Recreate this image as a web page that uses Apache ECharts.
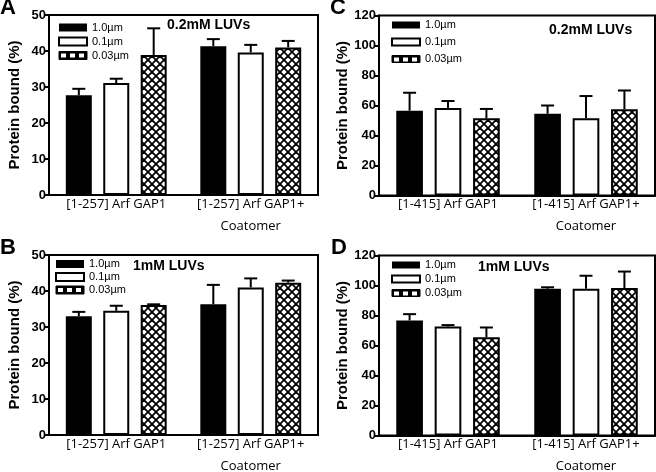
<!DOCTYPE html>
<html>
<head>
<meta charset="utf-8">
<script src="https://cdn.jsdelivr.net/npm/echarts@6/dist/echarts.min.js"></script>
<style>html,body{margin:0;padding:0;background:#fff}#c{width:656px;height:472px}</style>
</head>
<body>
<div id="c"></div>
<script>
// ---- data ----
const seriesNames = ['1.0\u00b5m', '0.1\u00b5m', '0.03\u00b5m'];
const categories257 = ['[1-257] Arf GAP1', '[1-257] Arf GAP1+\nCoatomer'];
const categories415 = ['[1-415] Arf GAP1', '[1-415] Arf GAP1+\nCoatomer'];
const panelLetters = ['A', 'B', 'C', 'D'];
const panelSubtitles = ['0.2mM LUVs', '1mM LUVs', '0.2mM LUVs', '1mM LUVs'];
const yTicksAB = [0, 10, 20, 30, 40, 50];
const yTicksCD = [0, 20, 40, 60, 80, 100, 120];

// Panel A (means, error tops)
const A_mean_1 = [27.7, 41.3];
const A_mean_01 = [31.1, 39.6];
const A_mean_003 = [38.9, 41.0];
const A_top_1 = [29.5, 43.3];
const A_top_01 = [32.3, 41.7];
const A_top_003 = [46.3, 42.8];
// Panel B
const B_mean_1 = [33.0, 36.3];
const B_mean_01 = [34.5, 41.0];
const B_mean_003 = [36.1, 42.3];
const B_top_1 = [34.2, 41.7];
const B_top_01 = [35.9, 43.5];
const B_top_003 = [36.3, 42.9];
// Panel C
const C_mean_1 = [56.5, 54.5];
const C_mean_01 = [58.3, 51.5];
const C_mean_003 = [51.5, 57.5];
const C_top_1 = [68.5, 60.0];
const C_top_01 = [63.0, 66.3];
const C_top_003 = [57.7, 70.0];
// Panel D
const D_mean_1 = [76.7, 97.8];
const D_mean_01 = [72.7, 97.8];
const D_mean_003 = [65.5, 98.3];
const D_top_1 = [80.9, 98.8];
const D_top_01 = [73.6, 106.5];
const D_top_003 = [72.0, 109.3];

// ---- styling helpers ----
function makeHatch() {
  const c = document.createElement('canvas');
  c.width = 8; c.height = 8;
  const g = c.getContext('2d');
  g.fillStyle = '#fff'; g.fillRect(0, 0, 8, 8);
  g.strokeStyle = '#000'; g.lineWidth = 1.8;
  for (const dx of [-8, 0, 8]) {
    g.beginPath(); g.moveTo(dx, 0); g.lineTo(dx + 8, 8); g.stroke();
    g.beginPath(); g.moveTo(dx + 8, 0); g.lineTo(dx, 8); g.stroke();
  }
  return c;
}
function makeDots() {
  const c = document.createElement('canvas');
  c.width = 9; c.height = 8;
  const g = c.getContext('2d');
  g.fillStyle = '#000'; g.fillRect(0, 0, 9, 8);
  g.fillStyle = '#fff'; g.fillRect(2, 2, 5, 4);
  return c;
}
const hatch = { image: makeHatch(), repeat: 'repeat' };
const dots = { image: makeDots(), repeat: 'repeat' };
const barStyles = [
  { color: '#000', borderColor: '#000', borderWidth: 0 },
  { color: '#fff', borderColor: '#000', borderWidth: 2 },
  { color: hatch, borderColor: '#000', borderWidth: 2 }
];
const CAT_GAP = 0.25, BAR_GAP = 0.44;

function errRender(slot) {
  return function (params, api) {
    const cat = api.value(0);
    const base = api.coord([cat, api.value(1)]);
    const top = api.coord([cat, api.value(2)]);
    const catW = api.size([1, 0])[0];
    const bw = catW * (1 - CAT_GAP) / (3 + 2 * BAR_GAP);
    const x = base[0] + (slot - 1) * bw * (1 + BAR_GAP);
    const hw = 6.5;
    return {
      type: 'group',
      children: [
        { type: 'line', shape: { x1: x, y1: base[1], x2: x, y2: top[1] }, style: { stroke: '#000', lineWidth: 2 } },
        { type: 'line', shape: { x1: x - hw, y1: top[1], x2: x + hw, y2: top[1] }, style: { stroke: '#000', lineWidth: 2 } }
      ]
    };
  };
}

const panels = [
  { cats: categories257, means: [A_mean_1, A_mean_01, A_mean_003], tops: [A_top_1, A_top_01, A_top_003], ticks: yTicksAB,
    grid: { left: 49, top: 15, width: 269, height: 180 }, legend: { left: 58, top: 22, itemGap: 3, itemHeight: 8 } },
  { cats: categories257, means: [B_mean_1, B_mean_01, B_mean_003], tops: [B_top_1, B_top_01, B_top_003], ticks: yTicksAB,
    grid: { left: 49, top: 255, width: 269, height: 180 }, legend: { left: 55, top: 258.5, itemGap: 2, itemHeight: 8 } },
  { cats: categories415, means: [C_mean_1, C_mean_01, C_mean_003], tops: [C_top_1, C_top_01, C_top_003], ticks: yTicksCD,
    grid: { left: 379, top: 15.5, width: 276, height: 180 }, legend: { left: 391, top: 19.5, itemGap: 6, itemHeight: 7 } },
  { cats: categories415, means: [D_mean_1, D_mean_01, D_mean_003], tops: [D_top_1, D_top_01, D_top_003], ticks: yTicksCD,
    grid: { left: 379, top: 255.5, width: 276, height: 180 }, legend: { left: 391, top: 259.5, itemGap: 3, itemHeight: 7 } }
];
const letterPos = [{ left: 0, top: -3 }, { left: 0, top: 237 }, { left: 330, top: -3 }, { left: 331, top: 237 }];
const subPos = [{ left: 167, top: 18 }, { left: 133, top: 259 }, { left: 549, top: 23 }, { left: 478, top: 260 }];

const grids = [], xAxes = [], yAxes = [], series = [], legends = [], titles = [];
panels.forEach((p, i) => {
  grids.push(Object.assign({ show: true, borderColor: '#000', borderWidth: 2, backgroundColor: 'transparent',
    containLabel: false, outerBoundsMode: 'none' }, p.grid));
  xAxes.push({
    type: 'category', gridIndex: i, data: p.cats,
    axisLine: { show: true, lineStyle: { color: '#000', width: 2 } },
    axisTick: { show: false },
    axisLabel: { color: '#000', fontFamily: 'Open Sans', fontSize: 13, margin: -2, lineHeight: 22, interval: 0 },
    splitLine: { show: false }
  });
  const maxV = p.ticks[p.ticks.length - 1];
  yAxes.push({
    type: 'value', gridIndex: i, min: p.ticks[0], max: maxV, interval: p.ticks[1] - p.ticks[0],
    name: 'Protein bound (%)', nameLocation: 'middle', nameGap: 27,
    nameTextStyle: { color: '#000', fontFamily: 'Liberation Sans', fontWeight: 'bold', fontSize: 15 },
    axisLine: { show: true, lineStyle: { color: '#000', width: 2 } },
    axisTick: { show: true, length: 4, lineStyle: { color: '#000', width: 2 } },
    axisLabel: { color: '#000', fontFamily: 'Liberation Sans', fontWeight: 'bold', fontSize: 13, margin: 3 },
    splitLine: { show: false }
  });
  for (let s = 0; s < 3; s++) {
    series.push({
      type: 'bar', name: seriesNames[s], xAxisIndex: i, yAxisIndex: i, z: 3,
      data: p.means[s], barGap: (BAR_GAP * 100) + '%', barCategoryGap: (CAT_GAP * 100) + '%',
      itemStyle: barStyles[s], emphasis: { disabled: true }, animation: false
    });
    series.push({
      type: 'custom', name: 'err' + i + s, xAxisIndex: i, yAxisIndex: i, z: 1,
      renderItem: errRender(s), encode: { x: 0, y: [1, 2] },
      data: p.cats.map((c, k) => [k, p.means[s][k], p.tops[s][k]]), animation: false, silent: true
    });
  }
  legends.push(Object.assign({
    orient: 'vertical', padding: 0, itemWidth: 28, selectedMode: false,
    textStyle: { color: '#000', fontFamily: 'Liberation Sans', fontSize: 11 },
    data: [
      { name: seriesNames[0], icon: 'rect' },
      { name: seriesNames[1], icon: 'rect' },
      { name: seriesNames[2], icon: 'rect', itemStyle: { color: dots, borderColor: '#000', borderWidth: 1 } }
    ]
  }, p.legend));
  titles.push({ text: panelLetters[i], left: letterPos[i].left, top: letterPos[i].top, padding: 0,
    textStyle: { color: '#000', fontFamily: 'Liberation Sans', fontWeight: 'bold', fontSize: 22 } });
  titles.push({ text: panelSubtitles[i], left: subPos[i].left, top: subPos[i].top, padding: 0,
    textStyle: { color: '#000', fontFamily: 'Liberation Sans', fontWeight: 'bold', fontSize: 14 } });
});

const chart = echarts.init(document.getElementById('c'), null, { renderer: 'canvas' });
chart.setOption({
  backgroundColor: '#fff',
  animation: false,
  title: titles,
  legend: legends,
  grid: grids,
  xAxis: xAxes,
  yAxis: yAxes,
  series: series
});
</script>
</body>
</html>
